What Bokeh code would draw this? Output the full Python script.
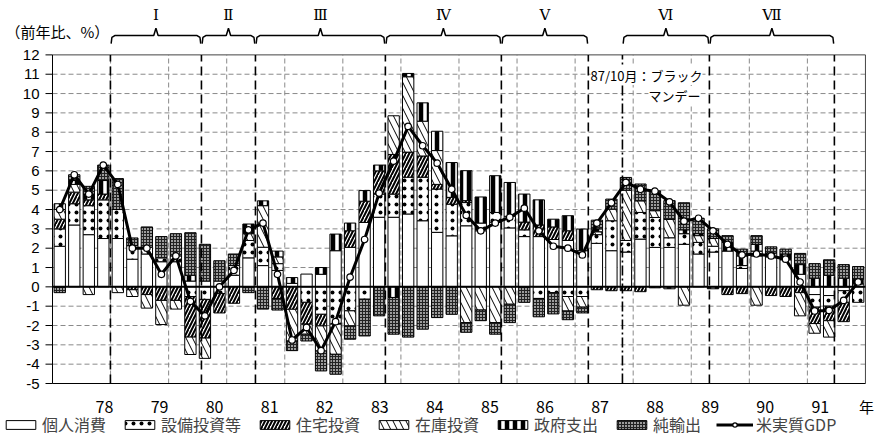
from bokeh.plotting import figure
from bokeh.models import Range1d, Label, Legend, LegendItem
from bokeh.core.properties import value
from bokeh.embed import file_html
from bokeh.resources import INLINE

# Quarterly contributions to US real GDP growth (y/y, %), 1978Q1-1991Q4
year_labels = ["78", "79", "80", "81", "82", "83", "84", "85", "86", "87", "88", "89", "90", "91"]
year_unit = "年"
y_ticks = list(range(-5, 13))

consumption = [2.1, 3.2, 2.7, 2.5, 2.5, 1.43, 1.7, 1.3, 1.3, 0.3, 0.3, 0.3, 0.6, 1.5,
               1.1, 0.85, 0.18, 0.66, 0.65, 1.87, 2.04, 3.33, 3.6, 3.6, 3.77, 3.42, 2.82, 2.64,
               3.16, 2.9, 3.35, 3.05, 2.6, 2.6, 2.45, 2.4, 1.87, 2.25, 1.87, 1.8, 2.47, 2.04,
               2.04, 2.2, 1.7, 1.8, 1.85, 0.95, 1.6, 1.55, 1.4, 0.65, -0.4, -0.45, -0.2, 0.15]
capex = [0.9, 1.1, 1.5, 2.0, 1.5, 0.7, 0.35, 0.2, 0.3, -0.5, -0.65, -0.35, 0.5, 0.9,
         0.95, 0.35, 0.0, -0.8, -1.42, -1.93, -1.24, -0.64, 1.2, 1.2, 1.9, 2.25, 2.24, 1.64,
         1.2, 0.4, 0.5, 0.6, 0.35, -0.6, -0.3, -0.5, -0.5, 0.45, 1.55, 0.6, 1.38, 1.55,
         0.5, 0.55, 0.6, 0.3, 0.0, 0.15, 0.25, 0.0, 0.0, 0.0, -0.65, -0.55, -0.6, -0.8]
housing = [0.5, 0.6, 0.3, 0.3, 0.0, -0.15, -0.4, -0.7, -0.7, -2.1, -2.0, -1.0, -0.85, 0.0,
           0.0, -0.6, -1.16, -1.13, -0.6, 0.0, 0.86, 1.1, 1.2, 2.05, 1.3, 1.1, 0.24, 0.35,
           0.1, 0.0, 0.0, 0.0, 0.4, 0.6, 0.65, 0.5, 0.0, -0.15, -0.2, -0.2, -0.25, 0.0,
           0.0, 0.0, 0.0, 0.0, -0.4, -0.35, 0.0, -0.45, -0.5, -0.3, -0.85, -0.75, -1.0, 0.0]
inventory = [0.5, 0.4, -0.4, 0.0, -0.3, -0.35, -0.7, -1.25, -0.45, -0.9, -1.05, 0.0, 0.0, 0.35,
             2.15, 0.35, -1.64, -0.52, -1.3, -1.56, -0.78, 0.0, 0.0, 2.0, 3.9, 1.8, 1.75, 0.0,
             -1.85, -1.2, -1.85, -0.9, 0.0, 0.0, 0.0, -0.75, -0.55, 0.15, 0.6, 2.6, 0.6, 0.35,
             0.95, -0.95, 0.35, 0.4, 0.0, 0.0, -0.95, 0.0, 0.0, -1.2, -0.5, -0.85, 0.0, 0.0]
government = [0.3, 0.2, 0.3, 0.7, 0.0, 0.0, 0.0, 0.0, 0.0, 0.3, 0.0, 0.0, 0.0, 0.5,
              0.25, 0.3, 0.3, 0.0, 0.35, 0.86, 0.4, 0.55, 0.3, -0.55, 0.17, 0.95, 1.0, 1.8,
              1.55, 1.35, 1.9, 1.75, 1.45, 1.3, 0.4, 0.78, 1.12, 0.15, 0.0, 0.0, 0.0, -0.05,
              -0.1, 0.2, 0.1, -0.1, 0.45, 0.5, 0.35, 0.2, 0.3, 0.5, 0.45, 0.6, 0.45, 0.25]
net_exports = [-0.3, 0.3, 0.4, 0.8, 1.6, 0.4, 1.05, 1.1, 1.15, 2.2, 1.9, 1.05, 0.6, -0.3,
               -1.15, -0.6, -0.5, -0.35, -1.03, -1.03, -0.69, -1.9, -1.5, -1.9, -2.6, -2.19, -1.59, -1.42,
               -0.5, -0.55, -0.6, -0.95, -0.8, -0.95, -1.1, -0.45, -0.3, 0.45, 0.52, 0.66, 0.87, 1.03,
               0.97, 1.4, 0.8, 0.5, 0.35, 0.35, 0.45, 0.32, 0.25, 0.58, 0.75, 0.8, 0.7, 0.65]
gdp = [4.0, 5.8, 4.8, 6.3, 5.3, 2.0, 2.0, 0.65, 1.6, -0.75, -1.5, 0.0, 0.85, 2.95,
       3.3, 0.65, -2.75, -2.1, -3.3, -1.8, 0.5, 2.45, 4.85, 6.5, 8.3, 7.3, 6.4, 5.05,
       3.7, 2.9, 3.3, 3.6, 4.07, 2.9, 2.1, 2.0, 1.65, 3.3, 4.35, 5.4, 5.05, 4.95,
       4.4, 3.4, 3.55, 2.9, 2.2, 1.65, 1.7, 1.6, 1.43, 0.25, -1.25, -1.22, -0.7, 0.25]

series_names = ["個人消費", "設備投資等", "住宅投資", "在庫投資", "政府支出", "純輸出"]
gdp_name = "米実質GDP"

# business-cycle phases, in quarter units on the x axis (bar i is centred on i)
phase_labels = ["Ⅰ", "Ⅱ", "Ⅲ", "Ⅳ", "Ⅴ", "Ⅵ", "Ⅶ"]
phase_start = [3.49, 9.76, 13.48, 22.43, 30.42, 38.76, 44.75]
phase_end = [9.76, 13.48, 22.43, 30.42, 36.41, 44.75, 53.36]
phase_lines = [3.49, 9.76, 13.48, 22.43, 30.42, 36.41, 44.75, 53.36]
black_monday = 38.76

n = len(gdp)
quarters = list(range(n))

JP = "Noto Sans CJK JP"
NUM = "Liberation Sans"
NARROW = "Liberation Sans Narrow, Noto Sans CJK JP"

X0, X1 = -0.5, 55.5          # plotted span of the quarter axis
Y0, Y1 = -5, 12              # plotted span of the value axis
px = 14.517                  # pixels per quarter
py = 19.33                   # pixels per percentage point

# the frame fills the canvas; axes, labels and legend are drawn inside it
p = figure(width=877, height=443, output_backend="svg", toolbar_location=None,
           x_axis_location=None, y_axis_location=None,
           x_range=Range1d(X0 - 52 / px, X0 - 52 / px + 877 / px),
           y_range=Range1d(Y0 - 60 / py, Y0 - 60 / py + 443 / py),
           min_border_left=0, min_border_right=0, min_border_top=0, min_border_bottom=0)
p.xgrid.visible = False
p.ygrid.visible = False
p.outline_line_color = None

# dashed grid
grid_y = [v for v in range(-4, 12) if v != 0]
p.segment(x0=[X0] * len(grid_y), y0=grid_y, x1=[X1] * len(grid_y), y1=grid_y,
          line_color="#8a8a8a", line_dash="5 3", line_width=1)
grid_x = [4 * k - 0.5 for k in range(1, 14)]
p.segment(x0=grid_x, y0=[Y0] * len(grid_x), x1=grid_x, y1=[Y1] * len(grid_x),
          line_color="#8a8a8a", line_dash="5 3", line_width=1)

# frame top and right edges
p.segment(x0=[X0, X1], y0=[Y1, Y0], x1=[X1, X1], y1=[Y1, Y1],
          line_color="#444444", line_width=1)

styles = [
    dict(fill_color="white"),
    dict(fill_color="white", hatch_pattern="dot", hatch_scale=8, hatch_weight=2, hatch_color="black"),
    dict(fill_color="white", hatch_pattern="right_diagonal_line", hatch_scale=7, hatch_weight=2, hatch_color="black"),
    dict(fill_color="white", hatch_pattern="left_diagonal_line", hatch_scale=13, hatch_weight=1, hatch_color="black"),
    dict(fill_color="white", hatch_pattern="vertical_line", hatch_scale=8, hatch_weight=4.5, hatch_color="black"),
    dict(fill_color="#9c9c9c", hatch_pattern="cross", hatch_scale=3, hatch_weight=1, hatch_color="#222222"),
]

pos = [0.0] * n
neg = [0.0] * n
bar_renderers = []
for vals, st in zip([consumption, capex, housing, inventory, government, net_exports], styles):
    xs, bottoms, tops = [], [], []
    for i, v in enumerate(vals):
        if v == 0:
            continue
        xs.append(i)
        if v > 0:
            bottoms.append(pos[i])
            tops.append(pos[i] + v)
            pos[i] += v
        else:
            tops.append(neg[i])
            bottoms.append(neg[i] + v)
            neg[i] += v
    r = p.vbar(x=xs, bottom=bottoms, top=tops, width=0.78,
               line_color="black", line_width=1, **st)
    bar_renderers.append(r)

# zero line
p.segment(x0=[X0], y0=[0], x1=[X1], y1=[0], line_color="black", line_width=2)

# phase boundaries
p.segment(x0=phase_lines, y0=[Y0] * len(phase_lines), x1=phase_lines, y1=[Y1] * len(phase_lines),
          line_color="black", line_dash="9 5", line_width=1.6)
p.segment(x0=[black_monday], y0=[Y0], x1=[black_monday], y1=[Y1],
          line_color="black", line_dash="10 3 2 3", line_width=1.6)

# braces above the plot area
bx, by = [], []
for a, b in zip(phase_start, phase_end):
    m = (a + b) / 2
    bx.append([a + 0.05, a + 0.1, a + 0.3, m - 0.15, m, m + 0.15, b - 0.3, b - 0.1, b - 0.05])
    by.append([12.58, 12.9, 13.0, 13.0, 13.38, 13.0, 13.0, 12.9, 12.58])
p.multi_line(xs=bx, ys=by, line_color="black", line_width=1.5)
p.text(x=[(a + b) / 2 for a, b in zip(phase_start, phase_end)], y=[14.05] * len(phase_labels),
       text=phase_labels, text_align="center", text_baseline="middle",
       text_font=value("DejaVu Serif"), text_font_size="15px", text_color="black")

# GDP line
gl = p.line(quarters, gdp, line_color="black", line_width=3)
gm = p.scatter(quarters, gdp, size=6.5, fill_color="white", line_color="black", line_width=1.2)

# value axis: line, outward ticks and labels
p.segment(x0=[X0], y0=[Y0], x1=[X0], y1=[Y1], line_color="black", line_width=1)
p.segment(x0=[X0 - 7 / px] * len(y_ticks), y0=y_ticks, x1=[X0] * len(y_ticks), y1=y_ticks,
          line_color="black", line_width=1)
p.text(x=[X0 - 13 / px] * len(y_ticks), y=y_ticks, text=[str(v) for v in y_ticks],
       text_align="right", text_baseline="middle", text_font=value(NUM),
       text_font_size="15px", text_color="black")
p.text(x=[X0 - 47 / px], y=[13.21], text=["（前年比、%）"], text_baseline="middle",
       text_font=value(JP), text_font_size="15px", text_color="black")

# year axis along the bottom
p.segment(x0=[X0], y0=[Y0], x1=[X1], y1=[Y0], line_color="black", line_width=1)
year_pos = [3.08 + 3.793 * k for k in range(len(year_labels))]
label_y = Y0 - 23 / py
p.text(x=year_pos, y=[label_y] * len(year_labels), text=year_labels,
       text_align="center", text_baseline="middle", text_font=value(NARROW),
       text_font_size="16px", text_color="black")
p.text(x=[55.57], y=[label_y], text=[year_unit], text_align="center", text_baseline="middle",
       text_font=value(JP), text_font_size="15px", text_color="black")

p.add_layout(Label(x=36.56, y=10.93, text="87/10月：ブラック", text_font=JP, text_font_size="13px",
                   text_baseline="middle", text_color="black",
                   background_fill_color="white"))
p.add_layout(Label(x=40.55, y=9.9, text="マンデー", text_font=JP, text_font_size="13px",
                   text_baseline="middle", text_color="black",
                   background_fill_color="white"))

# legend row under the year labels
items = [LegendItem(label=name, renderers=[r]) for name, r in zip(series_names, bar_renderers)]
items.append(LegendItem(label=gdp_name, renderers=[gl, gm]))
leg = Legend(items=items, orientation="horizontal", location=(2, 7),
             glyph_width=37, glyph_height=11, label_standoff=3, spacing=15,
             label_text_font=JP, label_text_font_size="16px", label_height=16,
             padding=3, margin=0, border_line_color=None, background_fill_alpha=0)
p.add_layout(leg)

open("out.html", "w").write(file_html(p, INLINE))
